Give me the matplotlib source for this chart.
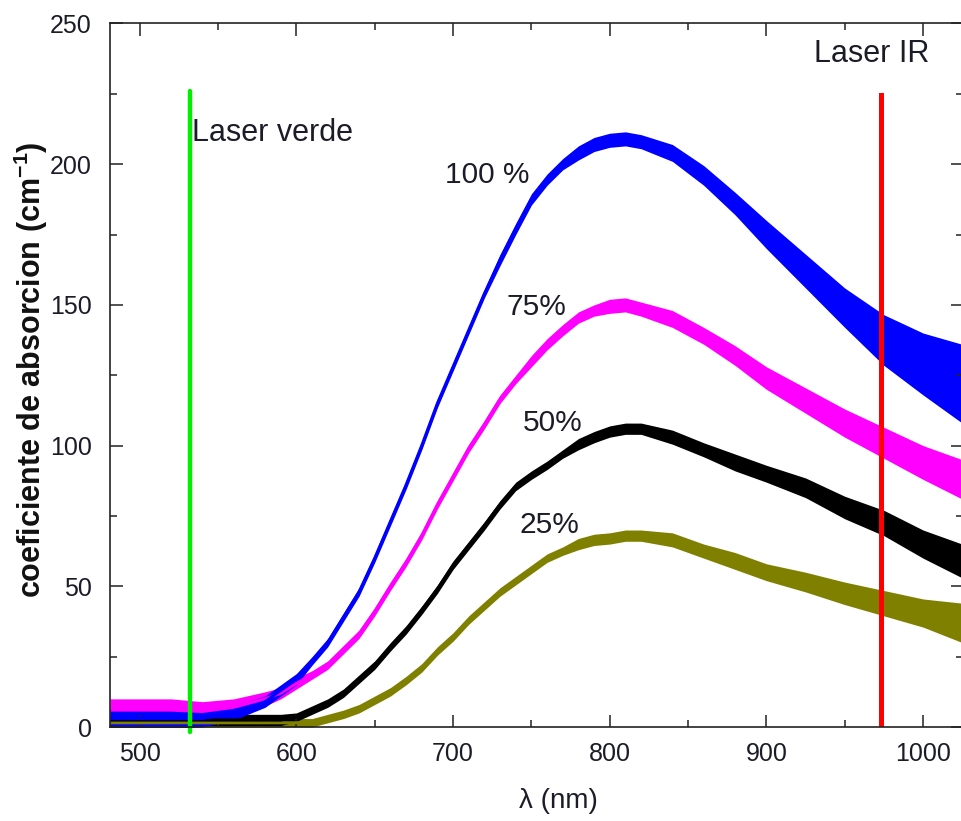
import numpy as np
import matplotlib
matplotlib.use("Agg")
import matplotlib.pyplot as plt
from matplotlib.ticker import MultipleLocator

plt.rcParams['font.family'] = ['Liberation Sans', 'DejaVu Sans']
plt.rcParams['mathtext.fontset'] = 'custom'
plt.rcParams['mathtext.rm'] = 'Liberation Sans'
plt.rcParams['mathtext.bf'] = 'Liberation Sans:bold'

# longueurs d'onde (nm)
lam = [481, 500, 520, 540, 560, 580, 590, 600, 610, 620, 630, 640, 650, 660, 670,
       680, 690, 700, 710, 720, 730, 740, 750, 760, 770, 780, 790, 800, 810, 820,
       840, 860, 880, 900, 925, 950, 975, 1000, 1025]

# coefficient d'absorption (cm-1) pour chaque concentration
c100 = [3, 3, 3, 3, 5, 9, 13, 17, 23.5, 30, 39, 48, 60, 73, 86,
        100, 115, 128, 141, 154, 166, 177, 187.5, 194.5, 200, 204, 207, 208.5, 209, 208,
        204, 196, 186, 175, 162, 149, 137.5, 129, 122]
c75 = [6, 6, 6, 5.5, 7, 10, 12, 15.5, 18.5, 22, 27.5, 33, 41, 50, 58.5,
       68, 79, 89, 99, 107.5, 116.5, 123.5, 130, 136, 141, 145.5, 148, 149.5, 150, 148.5,
       145, 139, 132, 124, 116, 108, 101, 94, 88]
c50 = [2.5, 2.5, 2.5, 2.5, 2.5, 2.5, 2.5, 3.5, 6, 8.5, 12, 17, 22, 28.5, 34.5,
       41.5, 49, 57.5, 64.5, 71.5, 79, 85.5, 89.5, 93, 97, 100.5, 103, 105, 106, 106,
       103, 98.5, 94, 90, 85, 78, 72.5, 65, 59]
c25 = [1.5, 1.5, 1.5, 1.5, 1.5, 1.5, 1.5, 1.5, 1.5, 3, 4.5, 6.5, 9.5, 12.5, 16.5,
       21, 27, 32, 38, 43, 48, 52, 56, 60, 62.5, 65, 66.5, 67, 68, 68,
       66.5, 62.5, 59, 55, 51.5, 47.5, 44, 40.5, 37]

# amplitude du bruit (demi-largeur)
b100 = [3.5, 3.5, 3.5, 3, 2.5, 2, 2, 2, 1.5, 1.5, 1.5, 1.5, 1.5, 1.5, 1.5,
        1.5, 1.5, 1.5, 1.5, 1.5, 2, 2, 2, 2, 2, 2.5, 2.5, 2.5, 2.5, 2.5,
        3, 3.5, 4, 5, 6, 7, 9, 11, 14]
b75 = [4, 4, 4, 3.5, 3, 2.5, 2, 2, 1.5, 1.5, 1.5, 1.5, 1.5, 1.5, 1.5,
       1.5, 1.5, 1.5, 1.5, 1.5, 1.5, 1.5, 2, 2, 2, 2, 2, 2.5, 2.5, 2.5,
       3, 3, 3.5, 4, 4.5, 5, 5.5, 6, 7]
b50 = [2.5, 2.5, 2.5, 2, 2, 2, 2, 1.5, 1.5, 1.5, 1.5, 1.5, 1.5, 1.5, 1.5,
       1.5, 1.5, 1.5, 1.5, 1.5, 1.5, 1.5, 1.5, 1.5, 1.5, 2, 2, 2, 2, 2,
       2.5, 2.5, 3, 3, 3.5, 4, 4.5, 5, 6]
b25 = [1.5, 1.5, 1.5, 1.5, 1.5, 1.5, 1.5, 1.5, 1.5, 1.5, 1.5, 1.5, 1.5, 1.5, 1.5,
       1.5, 1.5, 1.5, 1.5, 1.5, 1.5, 1.5, 1.5, 1.5, 1.5, 2, 2, 2, 2, 2,
       2.5, 2.5, 3, 3, 3.5, 4, 4.5, 5, 7]

series = [(c100, b100, '#0000ff'), (c75, b75, '#ff00ff'),
          (c50, b50, '#000000'), (c25, b25, '#808000')]

labels = ['100 %', '75%', '50%', '25%']
label_pos = [(722, 196), (753.5, 149.3), (763.7, 108), (761.8, 71.8)]

laser_verde = 532
laser_ir = 973

txt = '#1c1c28'

fig = plt.figure(figsize=(9.62, 8.21), dpi=100)
ax = fig.add_axes([110 / 962, 94 / 821, 853 / 962, 703.5 / 821])

x = np.array(lam)
for ys, bs, col in series[::-1]:
    ys = np.array(ys)
    bs = np.array(bs)
    ax.fill_between(x, ys - bs, ys + bs, color=col, lw=0)
    ax.plot(x, ys, color=col, lw=2.2)

ax.plot([laser_verde, laser_verde], [-1.8, 226], color='#00ee00', lw=3.2,
        clip_on=False, solid_capstyle='round')
ax.plot([laser_ir, laser_ir], [0, 224.5], color='#ff0000', lw=3.6)

ax.text(533.3, 211, 'Laser verde', fontsize=22, color=txt, ha='left', va='center')
ax.text(967.3, 239, 'Laser IR', fontsize=22, color=txt, ha='center', va='center')
for lab, (px, py) in zip(labels, label_pos):
    ax.text(px, py, lab, fontsize=21.5, color=txt, ha='center', va='center')

ax.set_xlim(481, 1025.5)
ax.set_ylim(0, 250)
ax.xaxis.set_major_locator(MultipleLocator(100))
ax.xaxis.set_minor_locator(MultipleLocator(50))
ax.yaxis.set_major_locator(MultipleLocator(50))
ax.yaxis.set_minor_locator(MultipleLocator(25))
ax.tick_params(which='both', direction='in', top=True, right=True,
               width=1.1, colors='#222222', labelcolor=txt, labelsize=18)
ax.tick_params(which='major', length=9)
ax.tick_params(which='minor', length=5)
ax.tick_params(axis='x', pad=11)
ax.tick_params(axis='y', pad=13)
for s in ax.spines.values():
    s.set_linewidth(1.2)
    s.set_color('#222222')

fig.text(558 / 962, 1 - 801 / 821, 'λ (nm)', fontsize=20, color=txt,
         ha='center', va='center')
fig.text(31 / 962, 1 - 370 / 821, r'coeficiente de absorcion (cm$^{\mathbf{-1}}$)',
         fontsize=22, fontweight='bold', color='#111111', rotation=90,
         ha='center', va='center')

fig.savefig('out.png', dpi=100)
